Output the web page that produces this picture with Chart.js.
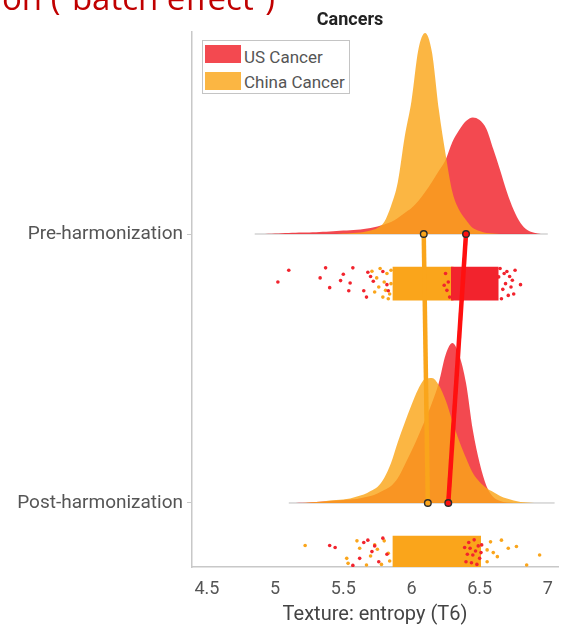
<!DOCTYPE html>
<html>
<head>
<meta charset="utf-8">
<script src="https://cdn.jsdelivr.net/npm/chart.js@4.4.1/dist/chart.umd.min.js"></script>
<style>
  body { margin: 0; background: #fff; }
  #wrap { position: relative; width: 565px; height: 628px; overflow: hidden; }
  #slide { position: absolute; left: 2px; top: -19px; font: 33px/33px "Open Sans", sans-serif; color: #c00000; white-space: nowrap; }
  #title { position: absolute; left: 0; width: 700px; top: 10px; text-align: center; font: bold 18px/18px Roboto, sans-serif; color: #222; }
  #legend { position: absolute; left: 202px; top: 40px; width: 146px; height: 52px; border: 1px solid #c4c4c4; background: #fff; font: 17px/18px Roboto, sans-serif; color: #555; }
  .sw { position: absolute; left: 2px; width: 36px; height: 18px; }
  .lbl { position: absolute; left: 41px; white-space: nowrap; }
</style>
</head>
<body>
<div id="wrap">
  <canvas id="chart" width="565" height="628"></canvas>
  <div id="slide">on (“batch effect”)</div>
  <div id="title">Cancers</div>
  <div id="legend">
    <span class="sw" id="swUS" style="top:4px"></span><span class="lbl" style="top:7px">US Cancer</span>
    <span class="sw" id="swCN" style="top:31px"></span><span class="lbl" style="top:32px">China Cancer</span>
  </div>
</div>
<script>
// groups on the y axis (Post = 1, Pre = 2)
const groupNames = ['Post-harmonization', 'Pre-harmonization'];
const groupPos = [1, 2];
const xTicks = [4.5, 5, 5.5, 6, 6.5, 7];

// kernel densities
const preX = [4.85,4.90,4.95,5.00,5.05,5.10,5.15,5.20,5.25,5.30,5.35,5.40,5.45,5.50,5.55,5.60,5.65,5.70,5.75,5.80,5.85,5.90,
  5.95,6.00,6.05,6.10,6.15,6.20,6.25,6.30,6.35,6.40,6.45,6.50,6.55,6.60,6.65,6.70,6.75,6.80,6.85,6.90,6.95,7.00];
const preUS = [0,0,0.002,0.005,0.008,0.010,0.012,0.014,0.016,0.018,0.022,0.026,0.030,0.034,0.038,0.042,0.050,0.060,0.075,0.095,0.12,0.16,
  0.21,0.26,0.33,0.42,0.52,0.63,0.74,0.92,1.04,1.13,1.166,1.14,1.05,0.85,0.64,0.42,0.24,0.11,0.04,0.012,0,0];
const preChina = [0,0,0,0,0,0,0,0,0,0,0,0,0,0.005,0.008,0.012,0.02,0.035,0.06,0.12,0.28,0.52,
  0.97,1.33,1.84,2.01,1.82,1.25,0.80,0.42,0.24,0.14,0.06,0.03,0.01,0.005,0,0,0,0,0,0,0,0];

const postX = [5.10,5.15,5.20,5.25,5.30,5.35,5.40,5.45,5.50,5.55,5.60,5.65,5.70,5.75,5.80,5.85,5.90,5.95,6.00,6.05,
  6.10,6.15,6.20,6.25,6.30,6.35,6.40,6.45,6.50,6.55,6.60,6.65,6.70,6.75,6.80,6.85,6.90,6.95,7.00,7.05];
const postUS = [0,0.001,0.003,0.006,0.01,0.015,0.02,0.025,0.03,0.035,0.04,0.055,0.07,0.095,0.13,0.17,0.25,0.38,0.52,0.67,
  0.83,1.00,1.20,1.48,1.60,1.48,1.20,0.73,0.40,0.17,0.06,0.02,0.005,0,0,0,0,0,0,0];
const postChina = [0,0,0,0.005,0.01,0.015,0.025,0.03,0.035,0.045,0.065,0.085,0.12,0.16,0.25,0.40,0.61,0.80,0.98,1.14,
  1.24,1.25,1.18,1.03,0.82,0.62,0.45,0.30,0.21,0.15,0.11,0.07,0.045,0.025,0.01,0.005,0,0,0,0];

// group means
const preUSMean = 6.40, preChinaMean = 6.09;
const postUSMean = 6.27, postChinaMean = 6.12;

// raw points: x value and jitter (0 = top of strip, 1 = bottom); dense cores as x ranges
const preUSPts = [5.02,5.10,5.33,5.37,5.40,5.48,5.50,5.54,5.55,5.57,5.65,5.67,5.68,5.70,5.72,5.79,5.82,5.83,
  6.24,6.25,6.26,6.27,6.28,6.64,6.65,6.66,6.67,6.68,6.69,6.70,6.71,6.72,6.73,6.74,6.75,6.76,6.80];
const preUSJit = [0.45,0.10,0.33,0.03,0.62,0.41,0.22,0.71,0.48,0.03,0.71,0.90,0.16,0.29,0.43,0.14,0.53,0.71,
  0.55,0.20,0.70,0.45,0.90,0.30,0.05,0.95,0.67,0.20,0.50,0.14,0.85,0.29,0.60,0.40,0.81,0.10,0.53];
const preChinaPts = [5.71,5.73,5.745,5.76,5.77,5.79,5.80,5.81,5.82,5.83,5.84,5.85,5.85];
const preChinaJit = [0.13,0.75,0.33,0.60,0.05,0.90,0.45,0.70,0.20,0.95,0.81,0.50,0.10];
const preUSCore = [6.29, 6.64];
const preChinaCore = [5.86, 6.31];

const postUSPts = [5.40,5.44,5.57,5.62,5.65,5.68,5.71,5.73,5.76,5.79,5.82,
  6.39,6.40,6.41,6.42,6.43,6.44,6.45,6.46,6.47,6.48,6.49,6.50,6.51,6.515];
const postUSJit = [0.29,0.35,0.88,0.67,0.20,0.13,0.47,0.30,0.77,0.07,0.55,
  0.35,0.77,0.55,0.20,0.37,0.80,0.57,0.12,0.45,0.85,0.30,0.67,0.50,0.27];
const postChinaPts = [5.22,5.525,5.535,5.60,5.62,5.67,5.70,5.73,5.75,5.78,5.80,5.83,5.84,
  6.555,6.555,6.58,6.60,6.63,6.66,6.71,6.77,6.845,6.94];
const postChinaJit = [0.29,0.67,0.82,0.15,0.37,0.87,0.60,0.27,0.40,0.85,0.15,0.52,0.75,
  0.77,0.42,0.18,0.50,0.62,0.13,0.37,0.32,0.87,0.57];
const postChinaCore = [5.86, 6.51];

// styling
const RED_FILL = 'rgba(240, 28, 36, 0.8)';
const ORANGE_FILL = 'rgba(250, 166, 26, 0.82)';
const RED = '#ff1010';
const ORANGE = '#faa51b';
const RED_DOT = '#f2232d';
const DENS_SCALE = 1 / 2.69;   // density -> y units
const BAND_TOP = 0.122, BAND_H = 0.125;

document.getElementById('swUS').style.background = RED_FILL;
document.getElementById('swCN').style.background = ORANGE_FILL;

const dens = (xs, ds, base) => xs.map((x, i) => ({ x, y: base + ds[i] * DENS_SCALE }));
const pts = (xs, js, base) => xs.map((x, i) => ({ x, y: base - BAND_TOP - js[i] * BAND_H }));
const core = (r, base) => [{ x: r[0], y: base - BAND_TOP }, { x: r[1], y: base - BAND_TOP }];

function densitySet(data, base, color, order) {
  return { data, showLine: true, fill: { value: base }, backgroundColor: color, borderColor: 'transparent',
    borderWidth: 0, pointRadius: 0, cubicInterpolationMode: 'monotone', order };
}
function coreSet(data, base, color, order) {
  return { data, showLine: true, fill: { value: base - BAND_TOP - BAND_H }, backgroundColor: color,
    borderColor: 'transparent', borderWidth: 0, pointRadius: 0, order };
}
function dotSet(data, color, order) {
  return { data, showLine: false, pointRadius: 1.8, pointBorderWidth: 0, pointBackgroundColor: color,
    borderColor: 'transparent', order };
}
function baseSet(xs, base) {
  return { data: [{ x: xs[0], y: base }, { x: xs[xs.length - 1], y: base }], showLine: true,
    borderColor: '#bdbdbd', borderWidth: 1, pointRadius: 0, order: 10 };
}
function meanSet(a, b, color, order) {
  return { data: [{ x: a, y: 2 }, { x: b, y: 1 }], showLine: true, borderColor: color, borderWidth: 4.5,
    pointRadius: 3.3, pointBackgroundColor: color, pointBorderColor: '#2b2b2b', pointBorderWidth: 1.4, order };
}

new Chart(document.getElementById('chart'), {
  type: 'scatter',
  data: {
    datasets: [
      baseSet(preX, 2), baseSet(postX, 1),
      densitySet(dens(preX, preUS, 2), 2, RED_FILL, 9),
      densitySet(dens(postX, postUS, 1), 1, RED_FILL, 9),
      densitySet(dens(preX, preChina, 2), 2, ORANGE_FILL, 8),
      densitySet(dens(postX, postChina, 1), 1, ORANGE_FILL, 8),
      coreSet(core(preChinaCore, 2), 2, ORANGE, 7),
      coreSet(core(postChinaCore, 1), 1, ORANGE, 7),
      dotSet(pts(preChinaPts, preChinaJit, 2), ORANGE, 6),
      dotSet(pts(postChinaPts, postChinaJit, 1), ORANGE, 6),
      coreSet(core(preUSCore, 2), 2, RED_DOT, 5),
      dotSet(pts(preUSPts, preUSJit, 2), RED_DOT, 4),
      dotSet(pts(postUSPts, postUSJit, 1), RED_DOT, 4),
      meanSet(preChinaMean, postChinaMean, ORANGE, 2),
      meanSet(preUSMean, postUSMean, RED, 1)
    ]
  },
  options: {
    responsive: false,
    animation: false,
    layout: { padding: { top: 32, right: 0, left: 0, bottom: 0 } },
    plugins: { legend: { display: false }, tooltip: { enabled: false } },
    scales: {
      x: {
        type: 'linear', min: 4.39, max: 7.075,
        afterBuildTicks: s => { s.ticks = xTicks.map(v => ({ value: v })); },
        afterFit: s => { s.height = 61; },
        grid: { display: true, drawOnChartArea: false, drawTicks: false },
        border: { color: '#c8c8c8', width: 1.5 },
        ticks: { padding: 12, color: '#555', font: { family: 'Roboto', size: 18 }, callback: v => String(v) },
        title: { display: true, text: 'Texture: entropy (T6)', color: '#444', font: { family: 'Roboto', size: 20 }, padding: { top: 0, bottom: 1 } }
      },
      y: {
        type: 'linear', min: 0.762, max: 2.751,
        afterBuildTicks: s => { s.ticks = groupPos.map(v => ({ value: v })); },
        afterFit: s => { s.width = 192; },
        grid: { drawOnChartArea: false, drawTicks: true, tickLength: 5, color: '#c8c8c8' },
        border: { color: '#c8c8c8', width: 1.5 },
        ticks: { padding: 4, color: '#555', font: { family: 'Roboto', size: 19 }, callback: v => groupNames[groupPos.indexOf(v)] }
      }
    }
  }
});
</script>
</body>
</html>
